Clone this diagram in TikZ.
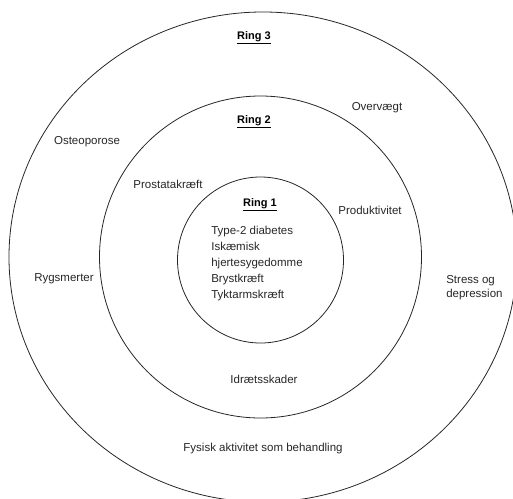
\documentclass[tikz,border=0pt]{standalone}
\usepackage{fontspec}
\setmainfont{Liberation Sans}
\usepackage{tikz}
\newcommand{\ringTitle}[1]{\textbf{\underline{#1}}}

\begin{document}
\begin{tikzpicture}[x=1pt, y=-1pt, semithick]
        \tikzset{
           ring/.style={
                        draw=black!85,
                        line width=0.8pt,
                        fill=none
                       },
           title/.style={
                        inner sep=1pt,
                        font=\fontsize{11}{13}\selectfont,
                        text=black
                       },
           item/.style={
                        inner sep=1pt,
                        font=\fontsize{11.5}{13}\selectfont,
                        text=black!85
                       },
           itemList/.style={
                        item,
                        align=left,
                        font=\fontsize{11.5}{16}\selectfont
                       },
                 };
    %--------------------
        \clip (0,0) rectangle (513,498);
        \draw[ring] (263,257) ellipse [x radius=254, y radius=245];
        \draw[ring] (260.5,257) circle [radius=161];
        \draw[ring] (260.5,260) circle [radius=83];
    %--------------------
        \node[title]    (ring3)      at (254,38)    {\ringTitle{Ring 3}};
        \node[title]    (ring2)      at (254,122)   {\ringTitle{Ring 2}};
        \node[title]    (ring1)      at (260,205)   {\ringTitle{Ring 1}};

        \node[itemList] (ring1Items) [anchor=north west] at (210,225)
                                        {Type-2 diabetes\\Iskæmisk\\hjertesygedomme\\Brystkræft\\Tyktarmskræft};

        \node[item]     (prostata)   at (168,184)   {Prostatakræft};
        \node[item]     (produktiv)  at (370,210)   {Produktivitet};
        \node[item]     (idraet)     at (264,379)   {Idrætsskader};

        \node[item]     (overvaegt)  at (377,108)   {Overvægt};
        \node[item]     (osteo)      at (87,142)    {Osteoporose};
        \node[item]     (ryg)        at (64,279)    {Rygsmerter};
        \node[item, align=left, font=\fontsize{11.5}{14.5}\selectfont]
                        (stress)     [anchor=north west] at (445,274) {Stress og\\depression};
        \node[item]     (fysisk)     at (263,449)   {Fysisk aktivitet som behandling};
    \end{tikzpicture}
\end{document}
